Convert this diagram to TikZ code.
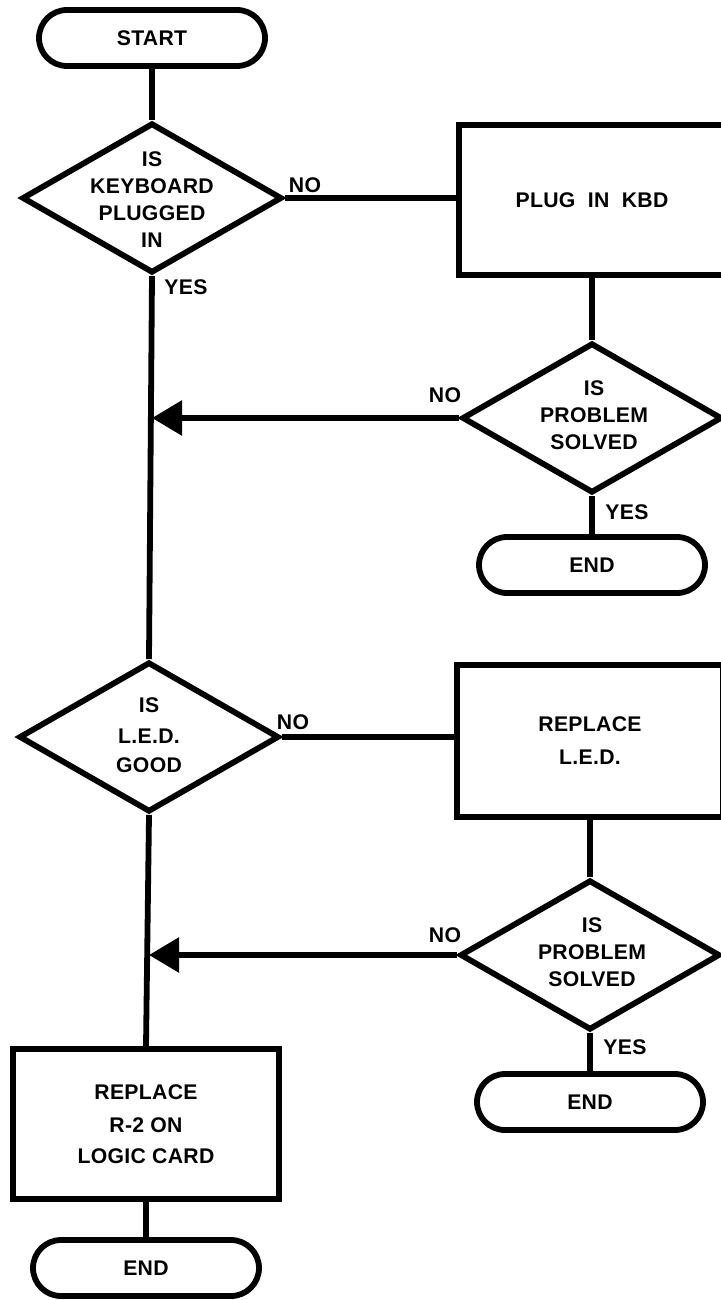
\documentclass[tikz,border=0pt]{standalone}
\usepackage{fontspec}
\setmainfont{Liberation Sans}[LetterSpace=1.5]
\usetikzlibrary{shapes.geometric,arrows.meta}
\begin{document}
\begin{tikzpicture}[x=0.5pt,y=-0.5pt,
  every node/.style={font=\bfseries\fontsize{10.6}{13.5}\selectfont},
  lw/.style={line width=2.9pt},
  term/.style={draw,lw,rounded corners=14pt,minimum width=113pt,minimum height=28pt,inner sep=0pt},
  procbox/.style={draw,lw,minimum width=133pt,minimum height=75pt,inner sep=0pt,align=center},
  dec/.style={draw,lw,diamond,minimum width=130pt,minimum height=75pt,inner sep=0pt},
  dtext/.style={align=center,inner sep=0pt},
  lab/.style={inner sep=0pt},
  conn/.style={lw},
  arr/.style={lw,-{Triangle[length=15pt,width=17pt]}}
]
\useasboundingbox (0,0) rectangle (720,1300);
\fill[white] (0,0) rectangle (720,1300);

% left column
\node[term] (start) at (152,38) {START};
\node[dec] (d1) at (152,198) {};
\node[dtext] (t1) at (152,200) {IS\\KEYBOARD\\PLUGGED\\IN};
\node[dec] (d2) at (149,737) {};
\node[dtext] (t2) at (149,735) {IS\\[2pt]L.E.D.\\[1pt]GOOD};
\node[procbox] (b3) at (146,1124) {REPLACE\\[3pt]R-2 ON\\[2pt]LOGIC CARD};
\node[term] (e3) at (146,1268) {END};

% right column
\node[procbox] (b1) at (592,200) {PLUG\ \ IN\ \ KBD};
\node[dec] (d3) at (592,418) {};
\node[dtext] (t3) at (594,415) {IS\\PROBLEM\\SOLVED};
\node[term] (e1) at (592,565) {END};
\node[procbox, minimum height=76pt] (b2) at (590,741) {REPLACE\\[3pt]L.E.D.};
\node[dec] (d4) at (590,955) {};
\node[dtext] (t4) at (592,952) {IS\\PROBLEM\\SOLVED};
\node[term] (e2) at (590,1102) {END};

% labels
\node[lab] (n1) at (305,185) {NO};
\node[lab] (y1) at (186,287) {YES};
\node[lab] (n2) at (293,722) {NO};
\node[lab] (n3) at (445,395) {NO};
\node[lab] (y3) at (627,512) {YES};
\node[lab] (n4) at (445,935) {NO};
\node[lab] (y4) at (625,1047) {YES};

% connectors
\draw[conn] (start.south) -- (d1.north);
\draw[conn] (d1.south) -- (d2.north);
\draw[conn] (d2.south) -- (b3.north);
\draw[conn] (b3.south) -- (e3.north);
\draw[conn] (d1.east) -- (d1.east -| b1.west);
\draw[conn] (b1.south) -- (d3.north);
\draw[conn] (d3.south) -- (e1.north);
\draw[arr] (d3.west) -- (d3.west -| d1.south);
\draw[conn] (d2.east) -- (d2.east -| b2.west);
\draw[conn] (b2.south) -- (d4.north);
\draw[conn] (d4.south) -- (e2.north);
\draw[arr] (d4.west) -- (d4.west -| d2.south);
\end{tikzpicture}
\end{document}
